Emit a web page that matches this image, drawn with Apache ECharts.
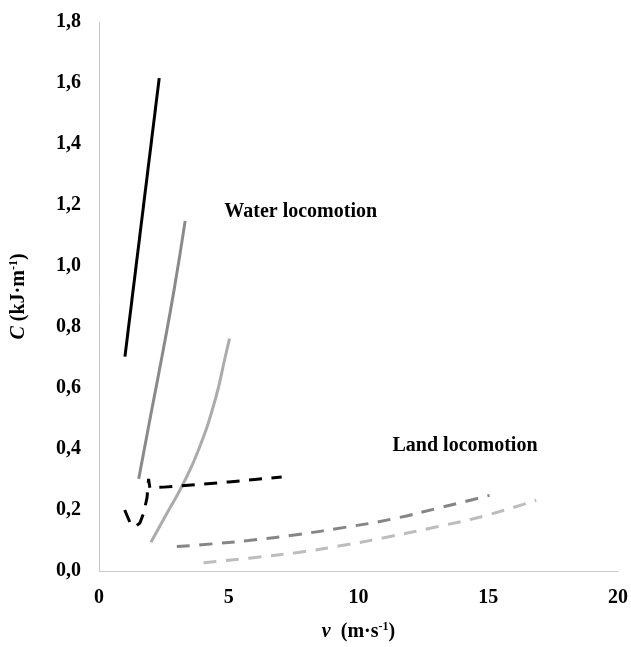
<!DOCTYPE html>
<html><head><meta charset="utf-8">
<script src="https://cdn.jsdelivr.net/npm/echarts@6/dist/echarts.min.js"></script>
<style>html,body{margin:0;padding:0;background:#fff}#c{width:631px;height:647px}</style>
</head><body><div id="c"></div>
<script>
// Water locomotion curves (solid)
const water1 = [[1.0,0.703],[2.32,1.616]];
const water2 = [[1.53,0.302],[2.0,0.514],[2.42,0.70],[2.9,0.925],[3.32,1.148]];
const water3 = [[2.0,0.094],[2.55,0.179],[3.19,0.277],[3.83,0.396],[4.47,0.559],[4.86,0.70],[5.03,0.762]];
// Land locomotion curves (dashed)
const land1 = [[0.99,0.20],[1.2,0.158],[1.4,0.145],[1.58,0.158],[1.72,0.19],[1.85,0.24],[1.91,0.302],[1.96,0.273],[2.5,0.275],[3.0,0.278],[4.0,0.285],[5.0,0.292],[6.0,0.30],[7.04,0.308]];
const land2 = [[3.0,0.080],[3.96,0.086],[5.76,0.100],[7.68,0.120],[9.47,0.143],[11.27,0.170],[13.06,0.206],[15.05,0.248]];
const land3 = [[4.03,0.027],[5.88,0.043],[7.68,0.061],[9.47,0.085],[11.27,0.114],[13.07,0.146],[14.86,0.181],[16.85,0.232]];
const annotations = [{text:'Water locomotion', pos:[4.83,1.177]},{text:'Land locomotion', pos:[11.31,0.411]}];
const xTicks = [0,5,10,15,20];
const yTicks = [0,0.2,0.4,0.6,0.8,1.0,1.2,1.4,1.6,1.8];

const font = '"Liberation Serif","Times New Roman",serif';
function line(data,color,dashed,smooth){
  return {type:'line',data:data,showSymbol:false,symbol:'none',smooth:smooth,silent:true,
    lineStyle:{color:color,width:3,type:dashed?[13,9.5]:'solid',cap:'butt'}};
}
const rich = {i:{fontStyle:'italic',fontFamily:font,fontWeight:'bold',fontSize:20,color:'#000'},
              s:{fontSize:12,fontFamily:font,fontWeight:'bold',color:'#000',verticalAlign:'top',padding:[0,0,10,0]}};
const chart = echarts.init(document.getElementById('c'),null,{renderer:'canvas'});
chart.setOption({
  animation:false,
  backgroundColor:'#fff',
  grid:{left:97,right:12,top:22,bottom:73,containLabel:false},
  xAxis:{type:'value',min:0,max:20,interval:5,
    axisLine:{show:true,lineStyle:{color:'#c8c8c8',width:1}},axisTick:{show:false},splitLine:{show:false},
    axisLabel:{margin:17,color:'#000',fontFamily:font,fontWeight:'bold',fontSize:20,
      formatter:v=>xTicks.includes(v)?String(v):''},
    name:'{i|v}  (m·s{s|-1})',nameLocation:'middle',nameGap:50,
    nameTextStyle:{color:'#000',fontFamily:font,fontWeight:'bold',fontSize:20,rich:rich}},
  yAxis:{type:'value',min:0,max:1.8,interval:0.2,
    axisLine:{show:true,lineStyle:{color:'#c8c8c8',width:1}},axisTick:{show:false},splitLine:{show:false},
    axisLabel:{margin:18,color:'#000',fontFamily:font,fontWeight:'bold',fontSize:20,
      formatter:v=>{const t=yTicks.find(y=>Math.abs(y-v)<1e-6);return t===undefined?'':t.toFixed(1).replace('.',',');}},
    name:'{i|C} (kJ·m{s|-1})',nameLocation:'middle',nameGap:69,nameRotate:90,
    nameTextStyle:{color:'#000',fontFamily:font,fontWeight:'bold',fontSize:20,rich:rich}},
  series:[
    line(water1,'#000000',false,false),
    line(water2,'#8a8a8a',false,true),
    line(water3,'#ababab',false,true),
    line(land1,'#000000',true,false),
    line(land2,'#858585',true,true),
    line(land3,'#bdbdbd',true,true)
  ]
});
chart.setOption({
  graphic: annotations.map(a=>{
    const p = chart.convertToPixel({gridIndex:0}, a.pos);
    return {type:'text',x:p[0],y:p[1],silent:true,
      style:{text:a.text,fill:'#000',font:'bold 20px '+font,textAlign:'left',textVerticalAlign:'middle'}};
  })
});
</script></body></html>
